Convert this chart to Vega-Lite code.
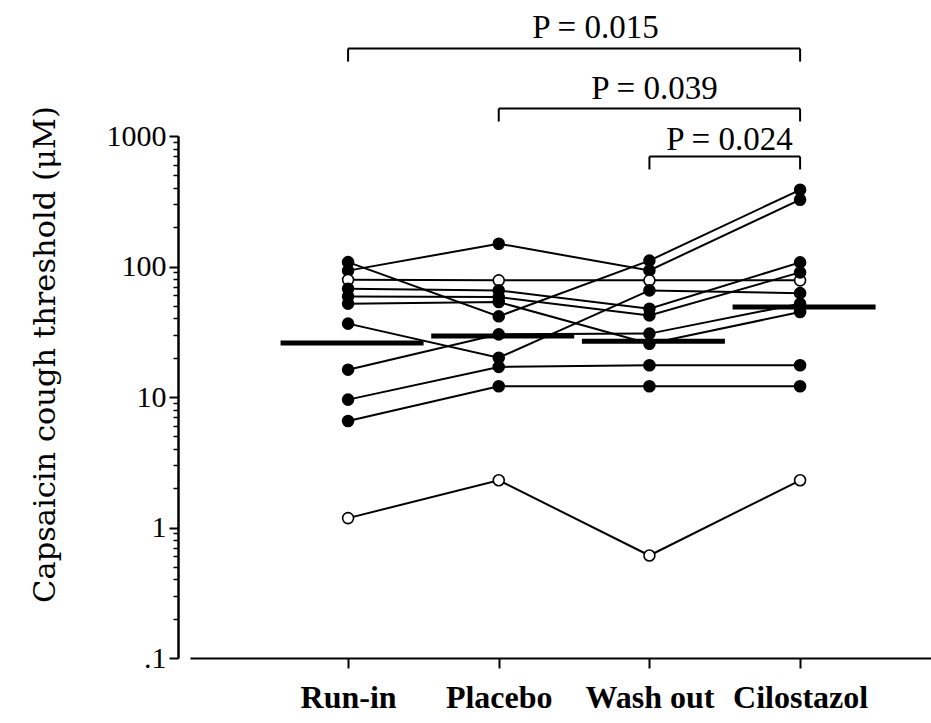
{
  "$schema": "https://vega.github.io/schema/vega-lite/v6.json",
  "width": 741,
  "height": 522,
  "autosize": {"type": "none"},
  "padding": {"left": 190, "top": 136, "right": 0, "bottom": 65},
  "background": "white",
  "config": {"view": {"stroke": null}},
  "datasets": {
    "obs": [
      {"subject": "s1", "type": "filled", "phase": "Run-in", "value": 108},
      {"subject": "s1", "type": "filled", "phase": "Placebo", "value": 41.5},
      {"subject": "s1", "type": "filled", "phase": "Wash out", "value": 111},
      {"subject": "s1", "type": "filled", "phase": "Cilostazol", "value": 387},
      {"subject": "s2", "type": "filled", "phase": "Run-in", "value": 93},
      {"subject": "s2", "type": "filled", "phase": "Placebo", "value": 149.5},
      {"subject": "s2", "type": "filled", "phase": "Wash out", "value": 93.3},
      {"subject": "s2", "type": "filled", "phase": "Cilostazol", "value": 325},
      {"subject": "s3", "type": "open", "phase": "Run-in", "value": 79},
      {"subject": "s3", "type": "open", "phase": "Placebo", "value": 78.3},
      {"subject": "s3", "type": "open", "phase": "Wash out", "value": 78.3},
      {"subject": "s3", "type": "open", "phase": "Cilostazol", "value": 78.3},
      {"subject": "s4", "type": "filled", "phase": "Run-in", "value": 67.6},
      {"subject": "s4", "type": "filled", "phase": "Placebo", "value": 65.6},
      {"subject": "s4", "type": "filled", "phase": "Wash out", "value": 47.5},
      {"subject": "s4", "type": "filled", "phase": "Cilostazol", "value": 107.5},
      {"subject": "s5", "type": "filled", "phase": "Run-in", "value": 59},
      {"subject": "s5", "type": "filled", "phase": "Placebo", "value": 58.3},
      {"subject": "s5", "type": "filled", "phase": "Wash out", "value": 42.2},
      {"subject": "s5", "type": "filled", "phase": "Cilostazol", "value": 90.1},
      {"subject": "s6", "type": "filled", "phase": "Run-in", "value": 51.9},
      {"subject": "s6", "type": "filled", "phase": "Placebo", "value": 53.4},
      {"subject": "s6", "type": "filled", "phase": "Wash out", "value": 25.6},
      {"subject": "s6", "type": "filled", "phase": "Cilostazol", "value": 44.8},
      {"subject": "s7", "type": "filled", "phase": "Run-in", "value": 36.5},
      {"subject": "s7", "type": "filled", "phase": "Placebo", "value": 20.0},
      {"subject": "s7", "type": "filled", "phase": "Wash out", "value": 65.6},
      {"subject": "s7", "type": "filled", "phase": "Cilostazol", "value": 62.5},
      {"subject": "s8", "type": "filled", "phase": "Run-in", "value": 16.2},
      {"subject": "s8", "type": "filled", "phase": "Placebo", "value": 30.2},
      {"subject": "s8", "type": "filled", "phase": "Wash out", "value": 30.6},
      {"subject": "s8", "type": "filled", "phase": "Cilostazol", "value": 51.9},
      {"subject": "s9", "type": "filled", "phase": "Run-in", "value": 9.55},
      {"subject": "s9", "type": "filled", "phase": "Placebo", "value": 17.0},
      {"subject": "s9", "type": "filled", "phase": "Wash out", "value": 17.5},
      {"subject": "s9", "type": "filled", "phase": "Cilostazol", "value": 17.5},
      {"subject": "s10", "type": "filled", "phase": "Run-in", "value": 6.55},
      {"subject": "s10", "type": "filled", "phase": "Placebo", "value": 12.1},
      {"subject": "s10", "type": "filled", "phase": "Wash out", "value": 12.1},
      {"subject": "s10", "type": "filled", "phase": "Cilostazol", "value": 12.1},
      {"subject": "s11", "type": "open", "phase": "Run-in", "value": 1.18},
      {"subject": "s11", "type": "open", "phase": "Placebo", "value": 2.3},
      {"subject": "s11", "type": "open", "phase": "Wash out", "value": 0.61},
      {"subject": "s11", "type": "open", "phase": "Cilostazol", "value": 2.3}
    ],
    "means": [
      {"phase": "Run-in", "value": 25.9},
      {"phase": "Placebo", "value": 29.3},
      {"phase": "Wash out", "value": 26.8},
      {"phase": "Cilostazol", "value": 48.9}
    ],
    "brackets": [
      {"a": "Run-in", "b": "Cilostazol", "ya": 4677, "yb": 4677},
      {"a": "Run-in", "b": "Run-in", "ya": 4677, "yb": 3718},
      {"a": "Cilostazol", "b": "Cilostazol", "ya": 4677, "yb": 3718},
      {"a": "Placebo", "b": "Cilostazol", "ya": 1624, "yb": 1624},
      {"a": "Placebo", "b": "Placebo", "ya": 1624, "yb": 1291},
      {"a": "Cilostazol", "b": "Cilostazol", "ya": 1624, "yb": 1291},
      {"a": "Wash out", "b": "Cilostazol", "ya": 696, "yb": 696},
      {"a": "Wash out", "b": "Wash out", "ya": 696, "yb": 554},
      {"a": "Cilostazol", "b": "Cilostazol", "ya": 696, "yb": 554}
    ]
  },
  "resolve": {"axis": {"y": "independent"}},
  "layer": [
    {
      "data": {"name": "obs"},
      "mark": {"type": "line", "color": "black", "strokeWidth": 2},
      "encoding": {
        "x": {
          "field": "phase", "type": "nominal",
          "scale": {"type": "point", "domain": ["Run-in", "Placebo", "Wash out", "Cilostazol"], "padding": 0.959, "align": 0.547},
          "axis": {
            "orient": "bottom", "title": null, "labelAngle": 0, "domain": true, "ticks": true, "labels": true,
            "domainColor": "black", "domainWidth": 2,
            "tickColor": "black", "tickWidth": 2, "tickSize": 10, "labelPadding": 14,
            "labelFont": "Liberation Serif", "labelFontSize": 32, "labelFontWeight": "bold",
            "labelColor": "black", "grid": false
          }
        },
        "y": {
          "field": "value", "type": "quantitative",
          "scale": {"type": "log", "domain": [0.1, 1000], "nice": false},
          "axis": {
            "orient": "left", "offset": 12, "values": [0.1, 1, 10, 100, 1000],
            "labelExpr": "datum.value < 0.5 ? '.1' : format(datum.value, 'd')",
            "grid": false, "domainColor": "black", "domainWidth": 2,
            "tickColor": "black", "tickWidth": 2, "tickSize": 9, "labelPadding": 3,
            "labelFont": "Liberation Serif", "labelFontSize": 30, "labelColor": "black",
            "title": "Capsaicin cough threshold (μM)", "titleFont": "DejaVu Serif",
            "titleFontSize": 30.5, "titleFontWeight": "normal", "titleColor": "black",
            "titleX": -133, "titleY": 218, "titleAngle": -90, "titleBaseline": "middle", "titleAlign": "center"
          }
        },
        "detail": {"field": "subject"},
        "order": {"value": null}
      }
    },
    {
      "data": {"name": "means"},
      "mark": {"type": "tick", "color": "black", "size": 143, "thickness": 5, "xOffset": 4, "opacity": 1},
      "encoding": {
        "x": {"field": "phase", "type": "nominal"},
        "y": {"field": "value", "type": "quantitative", "axis": null}
      }
    },
    {
      "data": {"name": "obs"},
      "mark": {"type": "point", "shape": "circle", "filled": false, "size": 120, "stroke": "black", "strokeWidth": 1.6, "opacity": 1},
      "encoding": {
        "x": {"field": "phase", "type": "nominal"},
        "y": {
          "field": "value", "type": "quantitative",
          "axis": {
            "orient": "left", "offset": 12,
            "values": [0.2, 0.3, 0.4, 0.5, 0.6, 0.7, 0.8, 0.9, 2, 3, 4, 5, 6, 7, 8, 9, 20, 30, 40, 50, 60, 70, 80, 90, 200, 300, 400, 500, 600, 700, 800, 900],
            "labels": false, "title": null, "grid": false, "domainColor": "black", "domainWidth": 2,
            "tickColor": "black", "tickWidth": 1.5, "tickSize": 5
          }
        },
        "fill": {"field": "type", "type": "nominal", "scale": {"domain": ["filled", "open"], "range": ["black", "white"]}, "legend": null}
      }
    },
    {
      "data": {"name": "brackets"},
      "mark": {"type": "rule", "color": "black", "strokeWidth": 2},
      "encoding": {
        "x": {"field": "a", "type": "nominal"},
        "x2": {"field": "b"},
        "y": {"field": "ya", "type": "quantitative", "axis": null},
        "y2": {"field": "yb"}
      }
    },
    {
      "data": {"values": [{"label": "P = 0.015", "at": "Wash out", "y": 6773}]},
      "mark": {"type": "text", "font": "Liberation Serif", "fontSize": 33, "color": "black", "dx": -54, "baseline": "middle", "align": "center"},
      "encoding": {
        "x": {"field": "at", "type": "nominal"},
        "y": {"field": "y", "type": "quantitative", "axis": null},
        "text": {"field": "label"}
      }
    },
    {
      "data": {"values": [{"label": "P = 0.039", "at": "Wash out", "y": 2310}]},
      "mark": {"type": "text", "font": "Liberation Serif", "fontSize": 33, "color": "black", "dx": 5, "baseline": "middle", "align": "center"},
      "encoding": {
        "x": {"field": "at", "type": "nominal"},
        "y": {"field": "y", "type": "quantitative", "axis": null},
        "text": {"field": "label"}
      }
    },
    {
      "data": {"values": [{"label": "P = 0.024", "at": "Wash out", "y": 924}]},
      "mark": {"type": "text", "font": "Liberation Serif", "fontSize": 33, "color": "black", "dx": 80, "baseline": "middle", "align": "center"},
      "encoding": {
        "x": {"field": "at", "type": "nominal"},
        "y": {"field": "y", "type": "quantitative", "axis": null},
        "text": {"field": "label"}
      }
    }
  ]
}
